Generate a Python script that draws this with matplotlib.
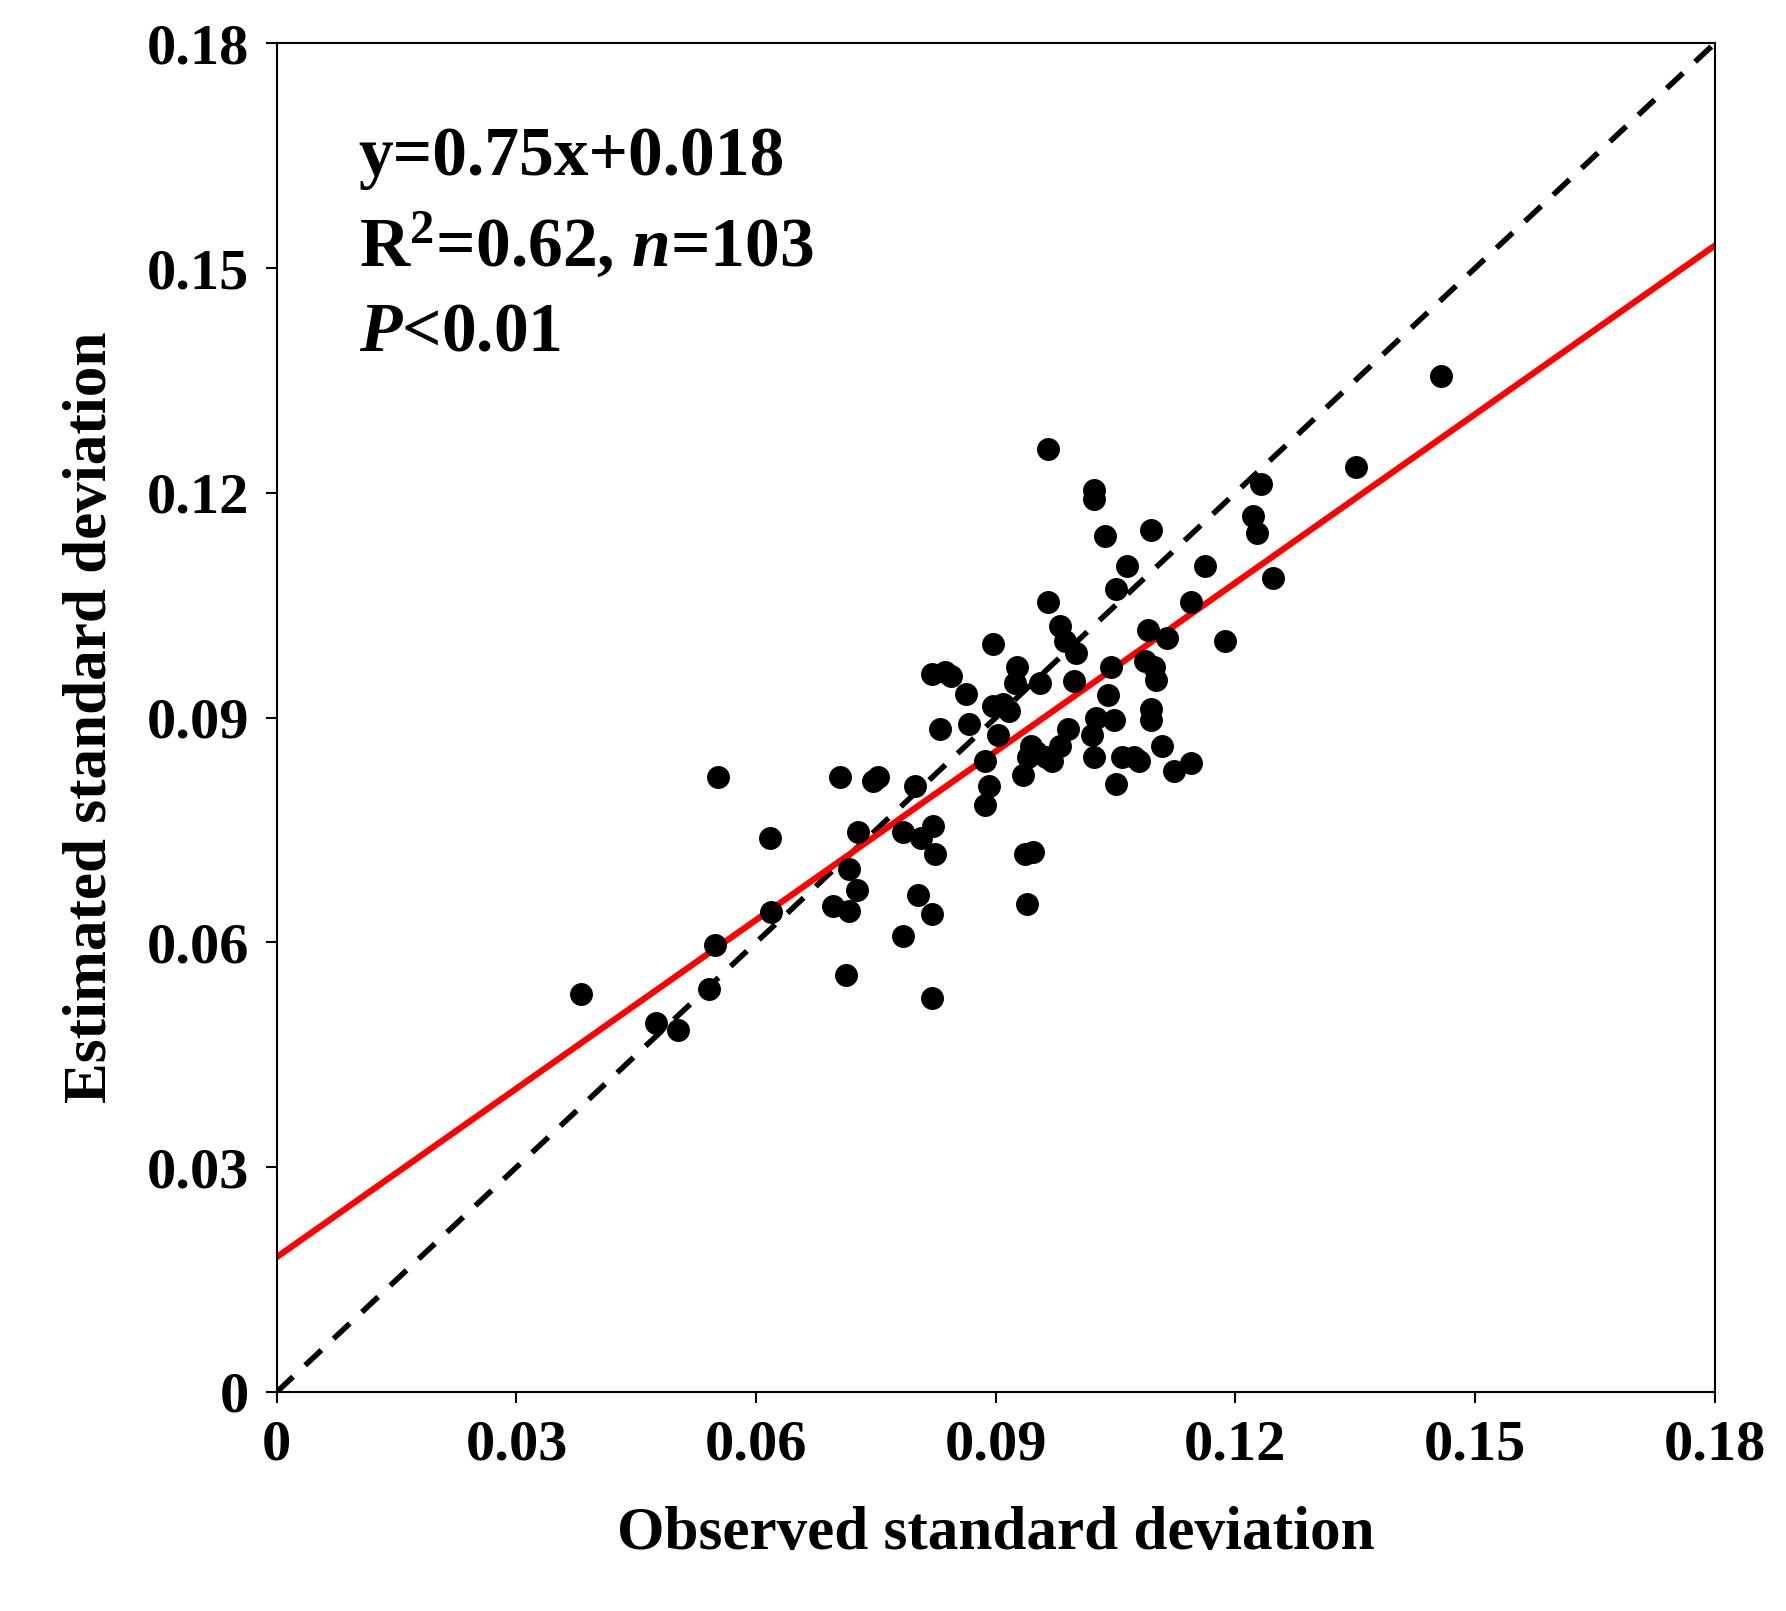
import matplotlib
matplotlib.use("Agg")
import matplotlib.pyplot as plt
import numpy as np

obs = [0.0381,0.0475,0.0502,0.0541,0.0548,0.0552,0.0618,0.0619,0.0705,0.0696,0.0716,0.0712,0.0716,0.0726,0.0727,0.0746,0.0753,0.0784,0.0784,0.0799,0.0803,0.0806,0.0820,0.0820,0.0822,0.0824,0.0820,0.0830,0.0837,0.0844,0.0863,0.0866,0.0887,0.0891,0.0887,0.0897,0.0897,0.0903,0.0909,0.0917,0.0924,0.0927,0.0934,0.0937,0.0947,0.0939,0.0940,0.0951,0.0956,0.0966,0.0966,0.0963,0.0970,0.0980,0.0980,0.0987,0.0991,0.1001,0.0998,0.1023,0.1023,0.1023,0.1020,0.1026,0.1037,0.1040,0.1044,0.1048,0.1051,0.1051,0.1058,0.1065,0.1073,0.1080,0.1087,0.1091,0.1094,0.1094,0.1094,0.1098,0.1101,0.1108,0.1115,0.1123,0.1144,0.1144,0.1162,0.1187,0.1222,0.1227,0.1232,0.1247,0.1351,0.1458,0.0944]
est = [0.0531,0.0493,0.0483,0.0538,0.0597,0.0821,0.0740,0.0640,0.0821,0.0648,0.0642,0.0556,0.0698,0.0670,0.0748,0.0816,0.0821,0.0608,0.0748,0.0809,0.0663,0.0740,0.0526,0.0638,0.0756,0.0718,0.0958,0.0885,0.0961,0.0956,0.0932,0.0891,0.0783,0.0809,0.0842,0.0999,0.0915,0.0877,0.0918,0.0909,0.0946,0.0968,0.0824,0.0718,0.0721,0.0651,0.0847,0.0854,0.0946,0.1055,0.1259,0.0847,0.0842,0.0862,0.1022,0.1002,0.0885,0.0987,0.0949,0.1204,0.1192,0.0847,0.0877,0.0900,0.1143,0.0930,0.0968,0.0897,0.1072,0.0812,0.0847,0.1102,0.0847,0.0842,0.0976,0.1017,0.1150,0.0911,0.0897,0.0968,0.0950,0.0862,0.1006,0.0829,0.0839,0.1055,0.1102,0.1003,0.1169,0.1146,0.1212,0.1087,0.1234,0.1356,0.0862]
slope, intercept = 0.75, 0.018
ticks = [0, 0.03, 0.06, 0.09, 0.12, 0.15, 0.18]
tick_labels = ["0", "0.03", "0.06", "0.09", "0.12", "0.15", "0.18"]

plt.rcParams["font.family"] = "Liberation Serif"
plt.rcParams["font.weight"] = "bold"
plt.rcParams["mathtext.fontset"] = "custom"
plt.rcParams["mathtext.rm"] = "Liberation Serif:bold"
plt.rcParams["mathtext.it"] = "Liberation Serif:italic:bold"
plt.rcParams["mathtext.bf"] = "Liberation Serif:bold"
fig = plt.figure(figsize=(17.86, 16.11), dpi=100)
ax = fig.add_axes([0.155, 0.136, 0.805, 0.837])
ax.plot([0, 0.18], [0, 0.18], "k--", lw=4, dashes=(4, 3))
xx = np.array([0, 0.18])
ax.plot(xx, slope * xx + intercept, color="#ff0000", lw=4.5)
ax.scatter(obs, est, s=240, color="black", zorder=3)
ax.set_xlim(0, 0.18); ax.set_ylim(0, 0.18)
ax.set_xticks(ticks); ax.set_xticklabels(tick_labels)
ax.set_yticks(ticks); ax.set_yticklabels(tick_labels)
ax.tick_params(labelsize=42, direction="out", length=8, width=1.5, pad=12)
for s in ax.spines.values():
    s.set_linewidth(1.5)
ax.set_xlabel("Observed standard deviation", fontsize=44, fontweight="bold", labelpad=25)
ax.set_ylabel("Estimated standard deviation", fontsize=44, fontweight="bold", labelpad=20)
ax.text(0.057, 0.915, "y=0.75x+0.018", transform=ax.transAxes, fontsize=50, fontweight="bold", va="center")
ax.text(0.057, 0.85, r"R$^{\mathbf{2}}$=0.62, $\mathit{n}$=103", transform=ax.transAxes, fontsize=50, fontweight="bold", va="center")
ax.text(0.057, 0.785, r"$\mathit{P}$<0.01", transform=ax.transAxes, fontsize=50, fontweight="bold", va="center")
fig.savefig("out.png", dpi=100)
